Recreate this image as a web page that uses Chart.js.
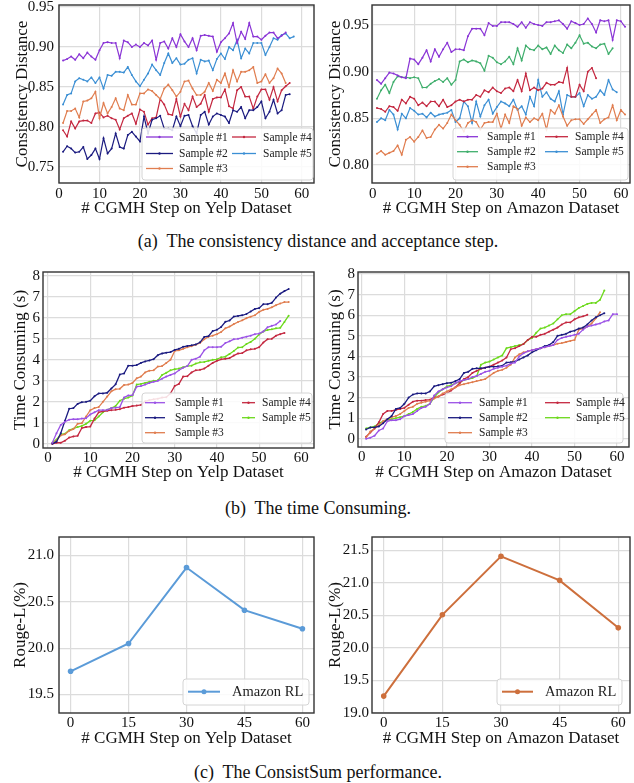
<!DOCTYPE html>
<html>
<head>
<meta charset="utf-8">
<script src="https://cdn.jsdelivr.net/npm/chart.js@4.4.1/dist/chart.umd.min.js"></script>
<style>
  html, body { margin: 0; padding: 0; background: #fff; }
  body { width: 634px; height: 783px; position: relative; overflow: hidden; font-family: 'Liberation Serif', serif; }
  canvas { position: absolute; }
  .cap { position: absolute; left: 0; width: 636px; text-align: center; font-family: 'Liberation Serif', 'DejaVu Serif', serif; font-size: 18px; line-height: 20px; color: #111; }
</style>
</head>
<body>
<canvas id="yelpDist" width="318" height="222" style="left:0;top:0"></canvas>
<canvas id="amazonDist" width="317" height="222" style="left:317px;top:0"></canvas>
<div class="cap" style="top:231px">(a)&nbsp; The consistency distance and acceptance step.</div>
<canvas id="yelpTime" width="318" height="222" style="left:0;top:262px"></canvas>
<canvas id="amazonTime" width="317" height="222" style="left:317px;top:262px"></canvas>
<div class="cap" style="top:498px">(b)&nbsp; The time Consuming.</div>
<canvas id="yelpRL" width="318" height="225" style="left:0;top:525px"></canvas>
<canvas id="amazonRL" width="317" height="225" style="left:317px;top:525px"></canvas>
<div class="cap" style="top:762px">(c)&nbsp; The ConsistSum performance.</div>

<script>
// Tick labels
const stepTicks = [0, 10, 20, 30, 40, 50, 60];
const rlStepTicks = [0, 15, 30, 45, 60];
const yelpDistTicks = [0.75, 0.80, 0.85, 0.90, 0.95];
const amazonDistTicks = [0.80, 0.85, 0.90, 0.95];
const timeTicks = [0, 1, 2, 3, 4, 5, 6, 7, 8];
const yelpRLTicks = [19.5, 20.0, 20.5, 21.0];
const amazonRLTicks = [19.0, 19.5, 20.0, 20.5, 21.0, 21.5];

const sampleLabels = ['Sample #1', 'Sample #2', 'Sample #3', 'Sample #4', 'Sample #5'];

// (a) consistency distance, Yelp (step = index + 1)
const yelpDist1 = [0.883,0.885,0.888,0.884,0.891,0.886,0.893,0.888,0.884,0.896,
  0.905,0.906,0.905,0.905,0.886,0.908,0.906,0.900,0.903,0.900,
  0.905,0.902,0.908,0.884,0.905,0.907,0.898,0.911,0.900,0.916,
  0.907,0.900,0.911,0.896,0.914,0.915,0.914,0.913,0.894,0.906,
  0.911,0.917,0.930,0.905,0.919,0.910,0.930,0.913,0.913,0.909,
  0.914,0.918,0.918,0.911,0.914,0.918];
const yelpDist2 = [0.769,0.776,0.773,0.768,0.769,0.775,0.760,0.765,0.773,0.760,
  0.786,0.767,0.773,0.792,0.775,0.773,0.790,0.794,0.788,0.782,
  0.813,0.792,0.809,0.811,0.814,0.798,0.798,0.796,0.813,0.801,
  0.814,0.815,0.801,0.792,0.815,0.819,0.803,0.813,0.817,0.815,
  0.813,0.805,0.821,0.819,0.825,0.811,0.821,0.821,0.825,0.832,
  0.811,0.819,0.834,0.817,0.821,0.840,0.841];
const yelpDist3 = [0.805,0.820,0.820,0.823,0.812,0.832,0.833,0.836,0.844,0.811,
  0.830,0.817,0.825,0.836,0.823,0.821,0.840,0.828,0.828,0.842,
  0.842,0.847,0.845,0.840,0.835,0.848,0.853,0.846,0.838,0.844,
  0.857,0.858,0.848,0.840,0.840,0.844,0.855,0.845,0.859,0.855,
  0.867,0.850,0.871,0.857,0.869,0.869,0.871,0.875,0.855,0.857,
  0.866,0.855,0.861,0.873,0.867,0.855];
const yelpDist4 = [0.796,0.788,0.807,0.798,0.807,0.808,0.808,0.805,0.817,0.818,
  0.812,0.814,0.811,0.809,0.797,0.811,0.814,0.817,0.804,0.822,
  0.819,0.803,0.811,0.812,0.835,0.828,0.816,0.815,0.835,0.813,
  0.829,0.821,0.838,0.825,0.829,0.840,0.819,0.835,0.837,0.837,
  0.847,0.826,0.823,0.846,0.850,0.838,0.838,0.823,0.838,0.847,
  0.847,0.834,0.850,0.832,0.846,0.851,0.855];
const yelpDist5 = [0.828,0.840,0.842,0.857,0.861,0.859,0.857,0.862,0.855,0.862,
  0.848,0.865,0.864,0.869,0.869,0.868,0.875,0.865,0.857,0.851,
  0.859,0.867,0.878,0.871,0.865,0.880,0.892,0.880,0.886,0.878,
  0.879,0.884,0.886,0.867,0.884,0.882,0.883,0.871,0.885,0.892,
  0.885,0.900,0.896,0.909,0.886,0.898,0.892,0.905,0.905,0.905,
  0.890,0.900,0.911,0.909,0.915,0.917,0.911,0.913];

// (a) consistency distance, Amazon
const amazonDist1 = [0.891,0.887,0.893,0.899,0.898,0.896,0.894,0.893,0.914,0.913,
  0.908,0.915,0.923,0.911,0.924,0.916,0.924,0.931,0.921,0.924,
  0.924,0.923,0.938,0.946,0.946,0.946,0.939,0.952,0.949,0.949,
  0.953,0.953,0.953,0.951,0.948,0.953,0.947,0.953,0.951,0.950,
  0.949,0.953,0.953,0.954,0.955,0.951,0.946,0.954,0.952,0.950,
  0.951,0.957,0.951,0.942,0.955,0.954,0.955,0.934,0.955,0.954,0.948];
const amazonDist2 = [0.871,0.880,0.886,0.877,0.889,0.895,0.894,0.894,0.893,0.894,
  0.893,0.883,0.883,0.887,0.890,0.892,0.889,0.893,0.886,0.891,
  0.911,0.913,0.910,0.912,0.911,0.909,0.901,0.917,0.915,0.910,
  0.908,0.911,0.916,0.908,0.925,0.912,0.928,0.924,0.923,0.928,
  0.924,0.926,0.919,0.928,0.923,0.920,0.929,0.925,0.931,0.939,
  0.930,0.931,0.927,0.925,0.929,0.930,0.919,0.925];
const amazonDist3 = [0.812,0.815,0.811,0.813,0.815,0.821,0.811,0.827,0.830,0.825,
  0.830,0.837,0.829,0.830,0.838,0.843,0.839,0.845,0.854,0.848,
  0.843,0.836,0.845,0.848,0.846,0.838,0.845,0.846,0.846,0.855,
  0.839,0.854,0.845,0.863,0.860,0.842,0.851,0.846,0.850,0.848,
  0.855,0.838,0.859,0.855,0.864,0.852,0.842,0.848,0.849,0.849,
  0.844,0.849,0.854,0.859,0.845,0.849,0.851,0.864,0.848,0.859,0.854];
const amazonDist4 = [0.861,0.860,0.857,0.863,0.862,0.858,0.870,0.866,0.873,0.871,
  0.864,0.867,0.863,0.868,0.868,0.863,0.870,0.862,0.864,0.868,
  0.870,0.868,0.870,0.870,0.875,0.873,0.880,0.878,0.883,0.879,
  0.877,0.882,0.883,0.879,0.891,0.879,0.898,0.880,0.883,0.880,
  0.882,0.888,0.886,0.886,0.889,0.888,0.904,0.873,0.873,0.886,
  0.879,0.900,0.904,0.893];
const amazonDist5 = [0.846,0.850,0.848,0.859,0.854,0.838,0.855,0.850,0.861,0.858,
  0.854,0.855,0.851,0.856,0.852,0.854,0.855,0.856,0.859,0.846,
  0.850,0.868,0.863,0.845,0.868,0.852,0.864,0.870,0.855,0.862,
  0.868,0.866,0.863,0.870,0.859,0.863,0.854,0.873,0.863,0.891,
  0.873,0.878,0.871,0.868,0.879,0.854,0.875,0.873,0.873,0.877,
  0.863,0.875,0.871,0.873,0.880,0.875,0.891,0.881,0.878];

// (b) time consuming (s), Yelp
const yelpTime1 = [0.05,0.5,0.9,1.05,1.15,1.17,1.17,1.2,1.22,1.4,
  1.5,1.6,1.6,1.62,1.7,1.72,1.75,2.2,2.3,2.32,
  2.72,2.75,2.82,2.9,2.95,3.0,3.1,3.2,3.28,3.35,
  3.5,3.62,3.7,4.0,4.05,4.15,4.45,4.6,4.6,4.6,
  4.62,4.8,4.88,4.98,5.0,5.05,5.1,5.15,5.22,5.25,
  5.35,5.55,5.62,5.68,5.85];
const yelpTime2 = [0.0,0.1,0.5,1.1,1.67,1.7,1.9,1.98,2.0,2.05,
  2.26,2.4,2.4,2.43,2.63,2.83,3.3,3.35,3.72,3.72,
  3.75,3.85,3.92,3.97,4.03,4.22,4.3,4.34,4.37,4.47,
  4.52,4.62,4.66,4.69,4.73,4.83,5.09,5.12,5.37,5.43,
  5.56,5.81,5.87,6.06,6.09,6.12,6.18,6.3,6.42,6.46,
  6.65,6.65,6.71,6.96,7.15,7.27,7.37];
const yelpTime3 = [0,0.15,0.4,0.45,0.62,0.7,0.95,0.98,1.3,1.6,
  1.7,1.75,2.0,2.25,2.5,2.6,2.62,2.8,2.82,2.9,
  3.12,3.2,3.4,3.48,3.5,3.68,3.7,3.85,4.0,4.42,
  4.45,4.52,4.6,4.65,4.72,4.8,4.98,5.1,5.15,5.22,
  5.32,5.5,5.58,5.7,5.8,5.88,5.98,6.05,6.12,6.28,
  6.38,6.42,6.5,6.6,6.68,6.75,6.75];
const yelpTime4 = [0,0.05,0.05,0.15,0.3,0.35,0.38,0.75,0.8,0.82,
  1.2,1.5,1.55,1.57,1.6,1.62,1.65,1.72,1.75,1.8,
  1.82,1.85,2.02,2.08,2.12,2.15,2.2,2.22,2.4,2.75,
  2.85,3.2,3.22,3.4,3.5,3.52,3.58,3.72,3.85,3.95,
  4.02,4.05,4.08,4.2,4.3,4.32,4.45,4.5,4.52,4.6,
  4.82,4.98,5.0,5.15,5.22,5.28];
const yelpTime5 = [0.05,0.2,0.45,0.48,0.65,0.72,0.8,0.85,0.95,1.1,
  1.12,1.3,1.5,1.62,1.7,1.8,2.05,2.15,2.2,2.3,
  2.82,2.85,2.9,2.95,3.0,3.02,3.28,3.38,3.5,3.55,
  3.58,3.65,3.7,3.72,3.82,3.88,3.9,3.95,4.0,4.02,
  4.12,4.15,4.28,4.42,4.58,4.6,4.75,4.85,5.0,5.2,
  5.35,5.42,5.45,5.5,5.52,5.8,6.1];

// (b) time consuming (s), Amazon
const amazonTime1 = [0.0,0.05,0.15,0.4,0.5,0.85,0.9,0.9,0.95,1.1,
  1.15,1.2,1.35,1.5,1.55,1.7,2.1,2.3,2.4,2.5,
  2.55,2.7,2.8,2.85,2.9,3.0,3.05,3.15,3.25,3.3,
  3.4,3.45,3.5,3.55,3.65,3.7,4.0,4.15,4.25,4.3,
  4.35,4.4,4.45,4.5,4.55,4.8,4.9,4.95,5.0,5.05,
  5.1,5.3,5.45,5.5,5.55,5.6,5.7,5.75,6.05,6.05];
const amazonTime2 = [0.45,0.55,0.55,0.6,0.75,0.95,1.1,1.45,1.5,1.7,
  2.0,2.15,2.2,2.2,2.2,2.3,2.55,2.6,2.65,2.7,
  2.72,2.8,2.9,3.2,3.25,3.4,3.42,3.42,3.45,3.5,
  3.5,3.52,3.55,3.7,3.72,3.75,3.85,3.95,4.05,4.2,
  4.3,4.4,4.5,4.55,4.7,5.0,5.05,5.1,5.2,5.25,
  5.35,5.4,5.55,5.75,5.9,6.0,6.1];
const amazonTime3 = [0.05,0.35,0.5,0.65,0.85,0.95,1.05,1.1,1.2,1.35,
  1.5,1.55,1.7,1.75,1.8,1.85,1.95,2.05,2.2,2.3,
  2.4,2.5,2.6,2.65,2.7,2.75,2.8,2.85,2.9,3.05,
  3.2,3.3,3.35,3.45,3.6,3.95,4.1,4.2,4.25,4.3,
  4.35,4.4,4.45,4.5,4.55,4.62,4.65,4.7,4.75,4.8,
  5.3,5.35,5.45,5.6,5.85,6.15];
const amazonTime4 = [0.1,0.3,0.5,0.8,1.2,1.35,1.35,1.4,1.45,1.5,
  1.65,1.8,1.85,1.85,1.88,1.9,2.0,2.05,2.15,2.2,
  2.35,2.5,2.7,2.9,3.0,3.2,3.3,3.4,3.45,3.5,
  3.6,3.7,3.8,3.95,4.35,4.4,4.5,4.6,4.8,4.95,
  4.95,5.05,5.1,5.2,5.3,5.4,5.55,5.65,5.65,5.8,
  5.9,5.95,6.02];
const amazonTime5 = [0.5,0.55,0.6,0.75,0.85,0.9,0.95,1.0,1.05,1.1,
  1.2,1.3,1.45,1.55,1.6,1.7,2.0,2.25,2.4,2.55,
  2.6,2.7,2.75,2.85,2.9,2.95,3.05,3.6,3.7,3.75,
  3.85,3.95,4.05,4.4,4.45,4.5,4.55,4.6,4.8,4.9,
  5.15,5.35,5.4,5.5,5.6,5.8,6.0,6.05,6.05,6.2,
  6.35,6.45,6.55,6.6,6.6,6.75,7.2];

// (c) ConsistSum Rouge-L (%)
const rlSteps = [0, 15, 30, 45, 60];
const yelpRL = [19.75, 20.05, 20.87, 20.41, 20.21];
const amazonRL = [19.26, 20.51, 21.41, 21.04, 20.31];

const FONT = '"Liberation Serif", "Times New Roman", serif';
Chart.defaults.font.family = FONT;
Chart.defaults.color = '#111';

// full dark frame round the plot area
const framePlugin = {
  id: 'frame',
  afterDatasetsDraw(chart) {
    const a = chart.chartArea, ctx = chart.ctx;
    ctx.save();
    ctx.strokeStyle = '#333';
    ctx.lineWidth = 1.4;
    ctx.strokeRect(a.left, a.top, a.right - a.left, a.bottom - a.top);
    ctx.restore();
  }
};

// matplotlib-like legend inside the axes (column-major)
const boxLegend = {
  id: 'boxLegend',
  afterDraw(chart, args, o) {
    if (!o || !o.box) return;
    const ctx = chart.ctx;
    const [bx, by, bw, bh] = o.box;
    ctx.save();
    ctx.beginPath();
    ctx.roundRect(bx, by, bw, bh, 3);
    ctx.fillStyle = 'rgba(255,255,255,0.85)';
    ctx.fill();
    ctx.strokeStyle = '#d4d4d4';
    ctx.lineWidth = 1;
    ctx.stroke();
    ctx.font = o.size + 'px ' + FONT;
    ctx.textBaseline = 'middle';
    const nRows = o.rows.length;
    chart.data.datasets.forEach((ds, i) => {
      const col = o.cols[Math.floor(i / nRows)];
      const y = o.rows[i % nRows];
      ctx.strokeStyle = ds.borderColor;
      ctx.lineWidth = o.lw;
      ctx.beginPath();
      ctx.moveTo(col[0], y);
      ctx.lineTo(col[1], y);
      ctx.stroke();
      ctx.beginPath();
      ctx.arc((col[0] + col[1]) / 2, y, o.dot, 0, Math.PI * 2);
      ctx.fillStyle = ds.borderColor;
      ctx.fill();
      ctx.fillStyle = '#222';
      ctx.fillText(ds.label, col[2], y + 0.5);
    });
    ctx.restore();
  }
};

function series(values, label, color, width, radius, xs) {
  return {
    label,
    data: values.map((v, i) => ({ x: xs ? xs[i] : i + 1, y: v })),
    borderColor: color,
    backgroundColor: color,
    borderWidth: width,
    pointRadius: radius,
    pointBorderWidth: 0,
    tension: 0
  };
}

function noPad(s) {
  s.paddingLeft = 0; s.paddingRight = 0; s.paddingTop = 0; s.paddingBottom = 0;
}

function makeChart(id, c) {
  const cv = document.getElementById(id);
  const W = cv.width, H = cv.height;
  const grid = { color: '#dcdcdc', lineWidth: 1.2, drawTicks: false };
  return new Chart(cv, {
    type: 'line',
    data: { datasets: c.datasets },
    options: {
      responsive: false,
      animation: false,
      devicePixelRatio: 1,
      layout: { padding: { left: 0, top: c.area.top, right: W - c.area.right, bottom: 0 } },
      plugins: { legend: { display: false }, tooltip: { enabled: false }, boxLegend: c.legend },
      scales: {
        x: {
          type: 'linear', min: c.x.min, max: c.x.max,
          afterBuildTicks: s => { s.ticks = c.x.ticks.map(v => ({ value: v })); },
          afterFit: s => { s.height = H - c.area.bottom; noPad(s); },
          grid, border: { display: false },
          ticks: { padding: c.x.pad, font: { family: FONT, size: 15 }, color: '#111', maxRotation: 0, autoSkip: false },
          title: { display: true, text: c.x.title, font: { family: FONT, size: 17 }, color: '#111', padding: { top: 0, bottom: c.x.titlePad } }
        },
        y: {
          type: 'linear', min: c.y.min, max: c.y.max,
          afterBuildTicks: s => { s.ticks = c.y.ticks.map(v => ({ value: v })); },
          afterFit: s => { s.width = c.area.left; noPad(s); },
          grid, border: { display: false },
          ticks: { padding: c.y.pad, font: { family: FONT, size: 15 }, color: '#111', autoSkip: false,
            callback: v => c.y.fmt ? v.toFixed(c.y.fmt) : v },
          title: { display: true, text: c.y.title, font: { family: FONT, size: 17 }, color: '#111', padding: { top: c.y.titlePad, bottom: 0 } }
        }
      }
    },
    plugins: [framePlugin, boxLegend]
  });
}

const C = {
  purple: '#8a35d6', navy: '#1b1b80', orange: '#e07d4f', red: '#c42840',
  blue: '#3b8fd4', green: '#3fae6c', lpurple: '#9b52e6', lime: '#6cd91c',
  rlBlue: '#5b9bd8', rlOrange: '#cd6f3c'
};

function drawAll() {
  makeChart('yelpDist', {
    area: { left: 59, right: 316, top: 5, bottom: 183 },
    x: { min: 0, max: 63, ticks: stepTicks, title: '# CGMH Step on Yelp Dataset', pad: 2, titlePad: 3 },
    y: { min: 0.73, max: 0.9525, ticks: yelpDistTicks, fmt: 2, title: 'Consistency Distance', pad: 5, titlePad: 12 },
    datasets: [
      series(yelpDist1, sampleLabels[0], C.purple, 1.2, 1),
      series(yelpDist2, sampleLabels[1], C.navy, 1.2, 1),
      series(yelpDist3, sampleLabels[2], C.orange, 1.2, 1),
      series(yelpDist4, sampleLabels[3], C.red, 1.2, 1),
      series(yelpDist5, sampleLabels[4], C.blue, 1.2, 1)
    ],
    legend: { box: [142, 128, 171, 52], cols: [[146, 173, 179], [232, 256, 263]], rows: [137, 153.5, 168.5], size: 11.5, lw: 1.3, dot: 1.2 }
  });

  makeChart('amazonDist', {
    area: { left: 55, right: 313, top: 5, bottom: 183 },
    x: { min: -0.2, max: 62.2, ticks: stepTicks, title: '# CGMH Step on Amazon Dataset', pad: 2, titlePad: 3 },
    y: { min: 0.7807, max: 0.9714, ticks: amazonDistTicks, fmt: 2, title: 'Consistency Distance', pad: 3, titlePad: 8.5 },
    datasets: [
      series(amazonDist1, sampleLabels[0], C.purple, 1.2, 1),
      series(amazonDist2, sampleLabels[1], C.green, 1.2, 1),
      series(amazonDist3, sampleLabels[2], C.orange, 1.2, 1),
      series(amazonDist4, sampleLabels[3], C.red, 1.2, 1),
      series(amazonDist5, sampleLabels[4], C.blue, 1.2, 1)
    ],
    legend: { box: [136, 128, 175, 52], cols: [[140, 161, 170], [228, 251, 258]], rows: [136.7, 151.7, 166.7], size: 11.5, lw: 1.3, dot: 1.2 }
  });

  makeChart('yelpTime', {
    area: { left: 43, right: 316, top: 10, bottom: 186 },
    x: { min: -1.2, max: 63, ticks: stepTicks, title: '# CGMH Step on Yelp Dataset', pad: 1, titlePad: 1 },
    y: { min: -0.2, max: 8.18, ticks: timeTicks, title: 'Time Consuming (s)', pad: 3, titlePad: 10.5 },
    datasets: [
      series(yelpTime1, sampleLabels[0], C.lpurple, 1.3, 1),
      series(yelpTime2, sampleLabels[1], C.navy, 1.3, 1),
      series(yelpTime3, sampleLabels[2], C.orange, 1.3, 1),
      series(yelpTime4, sampleLabels[3], C.red, 1.3, 1),
      series(yelpTime5, sampleLabels[4], C.lime, 1.3, 1)
    ],
    legend: { box: [142, 131, 170, 50], cols: [[145, 165, 175], [242, 255, 262]], rows: [140.7, 155.7, 170.7], size: 11.5, lw: 1.3, dot: 1.2 }
  });

  makeChart('amazonTime', {
    area: { left: 41, right: 312, top: 10, bottom: 185 },
    x: { min: -0.9, max: 62.8, ticks: stepTicks, title: '# CGMH Step on Amazon Dataset', pad: 1, titlePad: 1 },
    y: { min: -0.4, max: 8.1, ticks: timeTicks, title: 'Time Consuming (s)', pad: 3, titlePad: 8.5 },
    datasets: [
      series(amazonTime1, sampleLabels[0], C.lpurple, 1.3, 1),
      series(amazonTime2, sampleLabels[1], C.navy, 1.3, 1),
      series(amazonTime3, sampleLabels[2], C.orange, 1.3, 1),
      series(amazonTime4, sampleLabels[3], C.red, 1.3, 1),
      series(amazonTime5, sampleLabels[4], C.lime, 1.3, 1)
    ],
    legend: { box: [128, 131, 178, 50], cols: [[131, 155, 162], [228, 253, 259]], rows: [140.7, 155.7, 170.7], size: 11.5, lw: 1.3, dot: 1.2 }
  });

  makeChart('yelpRL', {
    area: { left: 59, right: 316, top: 12, bottom: 188 },
    x: { min: -3, max: 63, ticks: rlStepTicks, title: '# CGMH Step on Yelp Dataset', pad: 1, titlePad: 1.3 },
    y: { min: 19.3, max: 21.2, ticks: yelpRLTicks, fmt: 1, title: 'Rouge-L(%)', pad: 5, titlePad: 10.5 },
    datasets: [ series(yelpRL, 'Amazon RL', C.rlBlue, 2, 2.8, rlSteps) ],
    legend: { box: [183, 154, 126, 26], cols: [[188, 220, 232]], rows: [166.7], size: 14.5, lw: 2, dot: 2.5 }
  });

  makeChart('amazonRL', {
    area: { left: 55, right: 313, top: 12, bottom: 188 },
    x: { min: -3, max: 63, ticks: rlStepTicks, title: '# CGMH Step on Amazon Dataset', pad: 1, titlePad: 1.3 },
    y: { min: 19.0, max: 21.707, ticks: amazonRLTicks, fmt: 1, title: 'Rouge-L(%)', pad: 3, titlePad: 8 },
    datasets: [ series(amazonRL, 'Amazon RL', C.rlOrange, 2, 2.8, rlSteps) ],
    legend: { box: [180, 154, 125, 26], cols: [[185, 216, 228]], rows: [166.7], size: 14.5, lw: 2, dot: 2.5 }
  });
}

// make sure the serif face is ready before the canvases use it
if (document.fonts && document.fonts.load) {
  Promise.all([
    document.fonts.load('15px "Liberation Serif"'),
    document.fonts.load('17px "Liberation Serif"')
  ]).then(drawAll, drawAll);
} else {
  drawAll();
}
</script>
</body>
</html>
